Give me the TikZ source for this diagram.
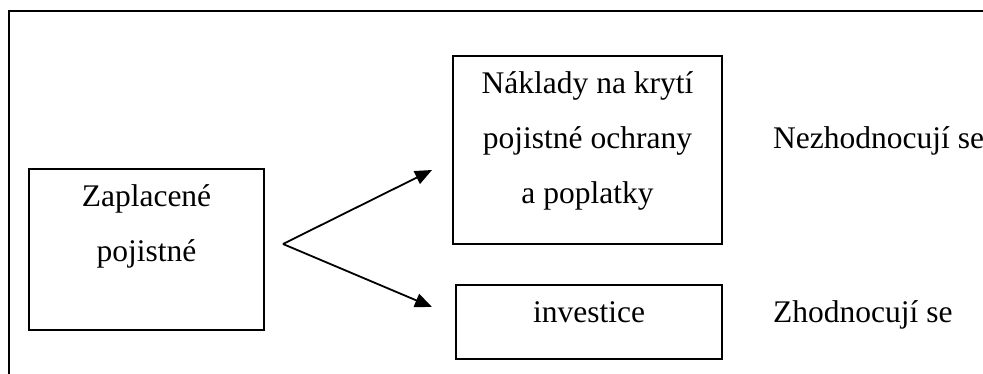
\documentclass[tikz,border=0pt]{standalone}
\usepackage{fontspec}
\setmainfont{Liberation Serif}
\usetikzlibrary{arrows.meta}

\tikzset{
  box/.style={draw, line width=1.8pt, inner sep=0pt, align=center},
  flow/.style={line width=1.8pt, -{Triangle[length=17pt,width=14pt]}}
}

\begin{document}
\begin{tikzpicture}[x=1pt,y=-1pt,font=\fontsize{31.5}{55}\selectfont]
                \useasboundingbox (0,0) rectangle (983,374);
                % Frame
                \draw [line width=2pt] (9,374) -- (9,11) -- (983,11);
                % Paid premium
                \node [box,
                    minimum width=235pt,
                    text height=93pt,
                    text depth=68pt,
                    anchor=north] (zaplacene) at (146.5,168) {Zaplacené\\pojistné};
                % Costs
                \node [box,
                    minimum width=269pt,
                    text height=148pt,
                    text depth=40pt,
                    anchor=north] (naklady) at (587.5,55) {Náklady na krytí\\pojistné ochrany\\a poplatky};
                % Investment
                \node [box,
                    minimum width=266pt,
                    text height=38pt,
                    text depth=36pt,
                    anchor=north] (investice) at (589,284) {investice};
                % Right texts
                \node [anchor=base west, inner sep=0pt] (nezhod) at (773,149) {Nezhodnocují se};
                \node [anchor=base west, inner sep=0pt] (zhod) at (773,322) {Zhodnocují se};
                % Arrows
                \coordinate (split) at (283,244);
                \coordinate (tipA) at (432,170);
                \coordinate (tipB) at (432,307);
                \draw [flow] (split) -- (tipA);
                \draw [flow] (split) -- (tipB);
            \end{tikzpicture}
\end{document}
